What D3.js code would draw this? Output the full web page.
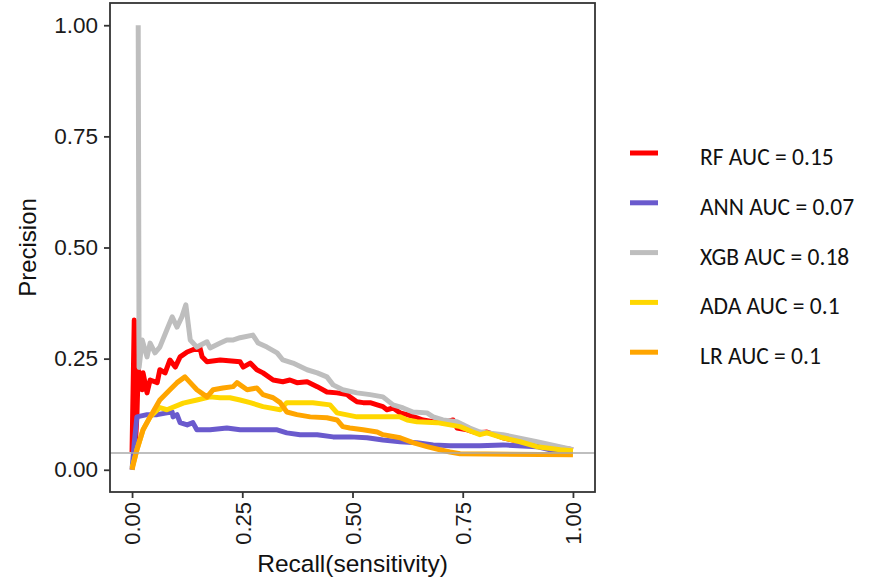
<!DOCTYPE html>
<html>
<head>
<meta charset="utf-8">
<script src="https://cdn.jsdelivr.net/npm/d3@7"></script>
<style>
  body { margin: 0; background: #fff; }
  .tick text { font-family: "Liberation Sans", Arial, sans-serif; }
</style>
</head>
<body>
<div id="chart"></div>
<script>
// PR curves: recall / precision per model
var rfRecall  = [0, 0.005, 0.007, 0.011, 0.014, 0.023, 0.025, 0.034, 0.041, 0.057, 0.063, 0.075, 0.086, 0.098, 0.109, 0.125, 0.138, 0.154, 0.159, 0.170, 0.200, 0.245, 0.252, 0.268, 0.283, 0.297, 0.320, 0.342, 0.358, 0.374, 0.397, 0.420, 0.442, 0.465, 0.488, 0.494, 0.510, 0.524, 0.540, 0.556, 0.569, 0.578, 0.592, 0.608, 0.624, 0.646, 0.660, 0.683, 0.705, 0.728, 0.737, 0.760, 0.782, 0.805, 0.841, 0.880, 0.918, 0.955, 1.0];
var rfPrec    = [0.04, 0.337, 0.05, 0.12, 0.225, 0.180, 0.218, 0.173, 0.202, 0.196, 0.225, 0.218, 0.247, 0.231, 0.254, 0.265, 0.270, 0.274, 0.254, 0.243, 0.247, 0.243, 0.231, 0.240, 0.225, 0.218, 0.202, 0.198, 0.202, 0.196, 0.198, 0.187, 0.175, 0.173, 0.169, 0.164, 0.153, 0.151, 0.151, 0.146, 0.142, 0.135, 0.139, 0.128, 0.124, 0.117, 0.112, 0.108, 0.106, 0.112, 0.094, 0.090, 0.083, 0.085, 0.072, 0.063, 0.061, 0.052, 0.045];

var annRecall = [0, 0.005, 0.011, 0.034, 0.057, 0.079, 0.091, 0.093, 0.102, 0.109, 0.125, 0.138, 0.147, 0.177, 0.215, 0.245, 0.274, 0.297, 0.329, 0.351, 0.381, 0.420, 0.456, 0.494, 0.533, 0.569, 0.608, 0.646, 0.683, 0.721, 0.760, 0.789, 0.841, 0.918, 0.948, 1.0];
var annPrec   = [0, 0.06, 0.119, 0.124, 0.124, 0.128, 0.130, 0.119, 0.124, 0.106, 0.101, 0.106, 0.090, 0.090, 0.094, 0.090, 0.090, 0.090, 0.090, 0.083, 0.079, 0.079, 0.074, 0.074, 0.072, 0.067, 0.063, 0.061, 0.056, 0.054, 0.054, 0.054, 0.056, 0.052, 0.045, 0.043];

var xgbRecall = [0.014, 0.016, 0.023, 0.034, 0.041, 0.052, 0.063, 0.079, 0.091, 0.102, 0.113, 0.122, 0.132, 0.147, 0.170, 0.177, 0.200, 0.215, 0.230, 0.245, 0.274, 0.286, 0.306, 0.329, 0.342, 0.365, 0.397, 0.420, 0.442, 0.456, 0.478, 0.510, 0.540, 0.569, 0.592, 0.615, 0.637, 0.669, 0.683, 0.705, 0.737, 0.766, 0.789, 0.841, 0.918, 0.993, 1.0];
var xgbPrec   = [1.0, 0.23, 0.292, 0.254, 0.285, 0.263, 0.276, 0.315, 0.344, 0.321, 0.344, 0.371, 0.292, 0.276, 0.288, 0.274, 0.285, 0.292, 0.292, 0.297, 0.303, 0.285, 0.276, 0.263, 0.247, 0.240, 0.225, 0.218, 0.209, 0.191, 0.180, 0.173, 0.169, 0.164, 0.146, 0.139, 0.130, 0.128, 0.119, 0.112, 0.108, 0.094, 0.085, 0.079, 0.063, 0.047, 0.045];

var adaRecall = [0, 0.011, 0.025, 0.041, 0.063, 0.079, 0.116, 0.147, 0.177, 0.200, 0.222, 0.245, 0.268, 0.297, 0.336, 0.351, 0.381, 0.410, 0.449, 0.465, 0.510, 0.540, 0.585, 0.608, 0.624, 0.646, 0.692, 0.721, 0.744, 0.773, 0.789, 0.805, 0.841, 0.880, 0.918, 0.941, 0.971, 1.0];
var adaPrec   = [0.004, 0.045, 0.09, 0.119, 0.14, 0.135, 0.15, 0.157, 0.164, 0.162, 0.162, 0.157, 0.151, 0.142, 0.135, 0.151, 0.151, 0.151, 0.146, 0.128, 0.119, 0.119, 0.119, 0.119, 0.112, 0.108, 0.106, 0.101, 0.097, 0.085, 0.079, 0.083, 0.072, 0.063, 0.052, 0.049, 0.045, 0.043];

var lrRecall  = [0, 0.011, 0.025, 0.041, 0.063, 0.086, 0.102, 0.120, 0.132, 0.147, 0.170, 0.184, 0.206, 0.229, 0.238, 0.261, 0.283, 0.297, 0.320, 0.336, 0.351, 0.374, 0.404, 0.442, 0.465, 0.478, 0.494, 0.524, 0.556, 0.569, 0.608, 0.637, 0.669, 0.698, 0.721, 0.744, 1.0];
var lrPrec    = [0, 0.045, 0.09, 0.119, 0.157, 0.180, 0.196, 0.209, 0.196, 0.180, 0.164, 0.180, 0.184, 0.187, 0.196, 0.180, 0.184, 0.169, 0.162, 0.151, 0.130, 0.124, 0.119, 0.117, 0.112, 0.097, 0.094, 0.090, 0.085, 0.079, 0.072, 0.061, 0.052, 0.045, 0.040, 0.036, 0.034];

var models  = ["RF", "ANN", "XGB", "ADA", "LR"];
var aucs    = ["0.15", "0.07", "0.18", "0.1", "0.1"];
var colors  = ["#ff0000", "#6a5acd", "#bebebe", "#ffd700", "#ffa500"];
var recalls = [rfRecall, annRecall, xgbRecall, adaRecall, lrRecall];
var precs   = [rfPrec, annPrec, xgbPrec, adaPrec, lrPrec];
var baseline = 0.038;
var ticks = [0, 0.25, 0.5, 0.75, 1];

var width = 878, height = 581;
var svg = d3.select("#chart").append("svg")
	.attr("width", width)
	.attr("height", height);

var x = d3.scaleLinear().domain([-0.05, 1.05]).range([110, 595]);
var y = d3.scaleLinear().domain([-0.05, 1.05]).range([492, 3]);

var line = d3.line()
	.x(function(d) { return x(d[0]); })
	.y(function(d) { return y(d[1]); });

models.forEach(function(m, i) {
	var pts = recalls[i].map(function(r, j) { return [r, precs[i][j]]; });
	svg.append("path")
		.datum(pts)
		.attr("d", line)
		.attr("fill", "none")
		.attr("stroke", colors[i])
		.attr("stroke-width", 5)
		.attr("stroke-linejoin", "round");
});

// no-skill baseline
svg.append("line")
	.attr("x1", x(-0.05)).attr("x2", x(1.05))
	.attr("y1", y(baseline)).attr("y2", y(baseline))
	.attr("stroke", "#aaaaaa")
	.attr("stroke-width", 1.5);

// panel border
svg.append("rect")
	.attr("x", x(-0.05)).attr("y", y(1.05))
	.attr("width", x(1.05) - x(-0.05)).attr("height", y(-0.05) - y(1.05))
	.attr("fill", "none")
	.attr("stroke", "#333")
	.attr("stroke-width", 1.8);

var yAxis = svg.append("g")
	.attr("transform", "translate(" + x(-0.05) + ",0)")
	.call(d3.axisLeft(y).tickValues(ticks).tickFormat(d3.format(".2f")).tickSize(6).tickPadding(6));
yAxis.select(".domain").remove();
yAxis.selectAll(".tick line").attr("stroke", "#333").attr("stroke-width", 1.8);
yAxis.selectAll(".tick text").attr("font-size", "22.5px").attr("fill", "#1a1a1a");

var xAxis = svg.append("g")
	.attr("transform", "translate(0," + y(-0.05) + ")")
	.call(d3.axisBottom(x).tickValues(ticks).tickFormat(d3.format(".2f")).tickSize(6));
xAxis.select(".domain").remove();
xAxis.selectAll(".tick line").attr("stroke", "#333").attr("stroke-width", 1.8);
xAxis.selectAll(".tick text")
	.attr("font-size", "22px").attr("fill", "#1a1a1a")
	.attr("transform", "rotate(-90)")
	.attr("x", -10).attr("y", 0).attr("dy", "0.36em")
	.attr("text-anchor", "end");

// axis titles
svg.append("text")
	.attr("x", (x(-0.05) + x(1.05)) / 2).attr("y", 572)
	.attr("text-anchor", "middle")
	.attr("font-family", "Liberation Sans, Arial, sans-serif")
	.attr("font-size", "24.5px").attr("fill", "#111")
	.text("Recall(sensitivity)");

svg.append("text")
	.attr("transform", "translate(36," + (y(1.05) + y(-0.05)) / 2 + ") rotate(-90)")
	.attr("text-anchor", "middle")
	.attr("font-family", "Liberation Sans, Arial, sans-serif")
	.attr("font-size", "24px").attr("fill", "#111")
	.text("Precision");

// legend
var legend = svg.append("g").attr("transform", "translate(630,153)");
models.forEach(function(m, i) {
	var g = legend.append("g").attr("transform", "translate(0," + i * 49.8 + ")");
	g.append("line")
		.attr("x1", 0).attr("x2", 28)
		.attr("stroke", colors[i]).attr("stroke-width", 5);
	g.append("text")
		.attr("x", 70).attr("y", 12)
		.attr("font-family", "Carlito, Lato, sans-serif")
		.attr("font-size", "23.5px").attr("fill", "#111")
		.text(m + " AUC = " + aucs[i]);
});
</script>
</body>
</html>
